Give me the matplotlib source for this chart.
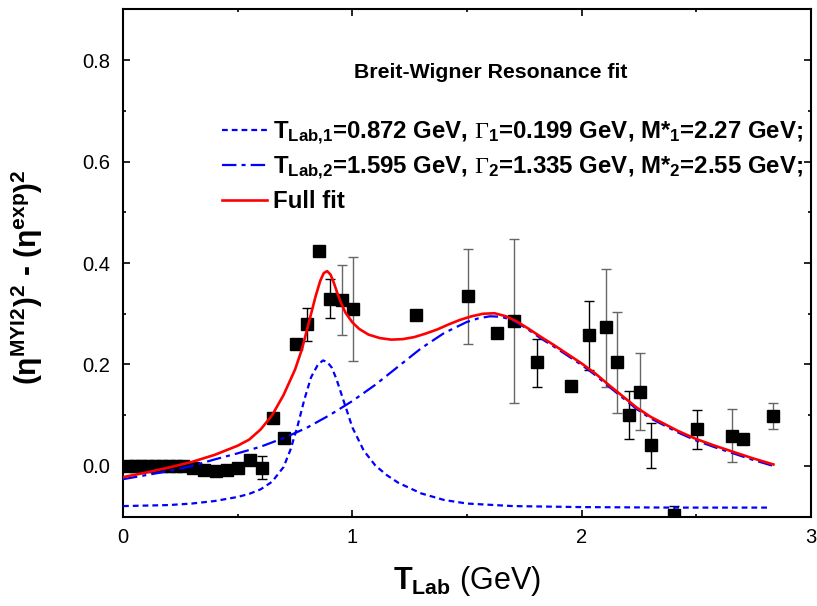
import numpy as np
import matplotlib
matplotlib.use('Agg')
import matplotlib.pyplot as plt
from matplotlib.ticker import MultipleLocator, FormatStrFormatter

plt.rcParams['font.family'] = 'Liberation Sans'
plt.rcParams['mathtext.fontset'] = 'custom'
plt.rcParams['mathtext.rm'] = 'Liberation Serif'
plt.rcParams['mathtext.bf'] = 'Liberation Sans:bold'
plt.rcParams['mathtext.it'] = 'Liberation Sans:italic'
plt.rcParams['mathtext.sf'] = 'Liberation Sans'

# ---- data points (T_Lab, value) ----
pts_x = [0.02, 0.05, 0.08, 0.11, 0.14, 0.17, 0.20, 0.23, 0.26,
         0.304, 0.353, 0.404, 0.452, 0.503, 0.554, 0.605, 0.653, 0.702,
         0.753, 0.804, 0.853, 0.903, 0.954, 1.002, 1.278, 1.506, 1.630,
         1.705, 1.804, 1.954, 2.031, 2.105, 2.156, 2.205, 2.255, 2.304,
         2.403, 2.503, 2.655, 2.705, 2.833]
pts_y = [0.0, 0.0, 0.0, 0.0, 0.0, 0.0, 0.0, 0.0, 0.0,
         -0.003, -0.007, -0.009, -0.008, -0.003, 0.012, -0.003, 0.094, 0.056,
         0.240, 0.279, 0.424, 0.329, 0.327, 0.309, 0.298, 0.334, 0.263,
         0.286, 0.204, 0.158, 0.259, 0.273, 0.204, 0.100, 0.146, 0.041,
         -0.097, 0.072, 0.060, 0.053, 0.098]

# error bars: x, lower end, upper end, colour
err_x  = [0.605, 0.804, 0.903, 0.954, 1.002, 1.506, 1.705, 1.804, 1.954,
          2.031, 2.105, 2.156, 2.205, 2.255, 2.304, 2.403, 2.503, 2.655, 2.833]
err_y  = [-0.003, 0.279, 0.329, 0.327, 0.309, 0.334, 0.286, 0.204, 0.158,
          0.259, 0.273, 0.204, 0.100, 0.146, 0.041, -0.097, 0.072, 0.060, 0.098]
err_lo = [-0.025, 0.246, 0.291, 0.258, 0.207, 0.240, 0.125, 0.156, 0.150,
          0.190, 0.156, 0.104, 0.053, 0.070, -0.003, -0.115, 0.033, 0.007, 0.072]
err_hi = [0.020, 0.312, 0.368, 0.396, 0.411, 0.427, 0.447, 0.250, 0.166,
          0.326, 0.388, 0.304, 0.148, 0.222, 0.085, -0.078, 0.110, 0.112, 0.124]
err_c  = ['k', 'k', 'k', '#666666', '#666666', '#666666', '#666666', 'k', '#666666',
          'k', '#666666', '#666666', 'k', '#666666', 'k', 'k', 'k', '#666666', '#666666']

# ---- fit curves ----
full_x = [0.0, 0.1, 0.2, 0.3, 0.4, 0.45, 0.5, 0.55, 0.6, 0.65, 0.7, 0.75, 0.78,
          0.8, 0.82, 0.84, 0.86, 0.875, 0.89, 0.905, 0.92, 0.935, 0.95, 0.97,
          1.0, 1.03, 1.07, 1.12, 1.17, 1.22, 1.27, 1.32, 1.37, 1.42, 1.47,
          1.52, 1.57, 1.62, 1.67, 1.72, 1.77, 1.82, 1.88, 1.94, 2.0, 2.06,
          2.12, 2.18, 2.24, 2.3, 2.36, 2.42, 2.5, 2.58, 2.66, 2.74, 2.836]
full_y = [-0.022, -0.013, -0.003, 0.008, 0.022, 0.031, 0.040, 0.052, 0.072, 0.100,
          0.140, 0.190, 0.230, 0.265, 0.300, 0.335, 0.365, 0.380, 0.384, 0.377,
          0.360, 0.340, 0.322, 0.302, 0.283, 0.270, 0.259, 0.252, 0.249, 0.250,
          0.254, 0.261, 0.269, 0.279, 0.288, 0.295, 0.300, 0.301, 0.295, 0.284,
          0.270, 0.255, 0.238, 0.220, 0.202, 0.182, 0.159, 0.137, 0.115, 0.097,
          0.083, 0.069, 0.053, 0.040, 0.028, 0.016, 0.003]

bw1_x = [0.0, 0.2, 0.3, 0.4, 0.5, 0.55, 0.6, 0.65, 0.7, 0.73, 0.76, 0.79, 0.82,
         0.85, 0.872, 0.89, 0.91, 0.93, 0.96, 1.0, 1.05, 1.1, 1.15, 1.2, 1.3,
         1.4, 1.5, 1.7, 2.0, 2.4, 2.822]
bw1_y = [-0.079, -0.077, -0.074, -0.069, -0.061, -0.055, -0.046, -0.031, -0.002,
         0.032, 0.077, 0.130, 0.175, 0.200, 0.208, 0.205, 0.194, 0.172, 0.131,
         0.076, 0.030, 0.001, -0.018, -0.033, -0.054, -0.067, -0.074, -0.079,
         -0.081, -0.082, -0.082]

bw2_x = [0.0, 0.1, 0.2, 0.3, 0.4, 0.5, 0.6, 0.7, 0.8, 0.9, 1.0, 1.1, 1.2, 1.3,
         1.4, 1.5, 1.55, 1.6, 1.65, 1.7, 1.76, 1.82, 1.88, 1.94, 2.0, 2.06,
         2.12, 2.18, 2.24, 2.3, 2.36, 2.42, 2.5, 2.58, 2.66, 2.74, 2.836]
bw2_y = [-0.026, -0.018, -0.010, 0.000, 0.013, 0.025, 0.038, 0.055, 0.075, 0.100,
         0.128, 0.160, 0.196, 0.232, 0.262, 0.284, 0.291, 0.295, 0.294, 0.287,
         0.271, 0.252, 0.235, 0.217, 0.199, 0.179, 0.156, 0.134, 0.112, 0.094,
         0.080, 0.066, 0.050, 0.037, 0.025, 0.013, 0.000]

lab1 = r'$\mathbf{T_{Lab{,}1}}$=0.872 GeV, $\Gamma_{\mathbf{1}}$=0.199 GeV, M*$_{\mathbf{1}}$=2.27 GeV;'
lab2 = r'$\mathbf{T_{Lab{,}2}}$=1.595 GeV, $\Gamma_{\mathbf{2}}$=1.335 GeV, M*$_{\mathbf{2}}$=2.55 GeV;'
lab3 = 'Full fit'

fig = plt.figure(figsize=[8.17, 6.06], dpi=100)
ax = fig.add_axes([0.1506, 0.1473, 0.8421, 0.8374])

for i in range(len(err_x)):
    ax.errorbar(err_x[i], err_y[i],
                yerr=[[err_y[i] - err_lo[i]], [err_hi[i] - err_y[i]]],
                fmt='none', ecolor=err_c[i], elinewidth=1.0, capsize=3.6,
                capthick=1.0, zorder=2)
ax.plot(pts_x, pts_y, 'ks', markersize=8, zorder=3)

l1, = ax.plot(bw1_x, bw1_y, color='#0000ff', linewidth=1.6, dashes=(2.6, 1.8), zorder=4)
l2, = ax.plot(bw2_x, bw2_y, color='#0000ff', linewidth=1.6, dashes=(6.5, 2.3, 1.8, 2.3), zorder=4)
l3, = ax.plot(full_x, full_y, color='#ff0000', linewidth=1.9, zorder=5)

ax.set_xlim(0, 3)
ax.set_ylim(-0.1, 0.9)
ax.xaxis.set_major_locator(MultipleLocator(1))
ax.xaxis.set_minor_locator(MultipleLocator(0.5))
ax.yaxis.set_major_locator(MultipleLocator(0.2))
ax.yaxis.set_minor_locator(MultipleLocator(0.1))
ax.yaxis.set_major_formatter(FormatStrFormatter('%.1f'))
ax.tick_params(which='both', direction='in', top=True, right=True, width=1.2,
               labelsize=14.5)
ax.tick_params(which='major', length=5)
ax.tick_params(which='minor', length=2.5)
ax.tick_params(axis='y', pad=9)
ax.tick_params(axis='x', pad=8)
for s in ax.spines.values():
    s.set_linewidth(1.5)

ax.set_xlabel(r'$\mathbf{T_{Lab}}$ (GeV)', fontsize=22, labelpad=12)
ax.set_ylabel(r'($\mathbf{\eta}^{\mathbf{MYI2}}$)$^{\mathbf{2}}$ - ($\mathbf{\eta}^{\mathbf{exp}}$)$^{\mathbf{2}}$',
              fontsize=21.5, fontweight='bold')
ax.yaxis.set_label_coords(-0.114, 0.472)

ax.text(0.535, 0.876, 'Breit-Wigner Resonance fit', transform=ax.transAxes,
        ha='center', va='center', fontsize=15.3, fontweight='bold')
ax.legend([l1, l2, l3], [lab1, lab2, lab3], loc='upper left',
          bbox_to_anchor=(0.144, 0.782), frameon=False, borderpad=0,
          borderaxespad=0, handlelength=1.85, handletextpad=0.25,
          labelspacing=0.33, prop={'weight': 'bold', 'size': 17.3})

fig.savefig('out.png', dpi=100)
